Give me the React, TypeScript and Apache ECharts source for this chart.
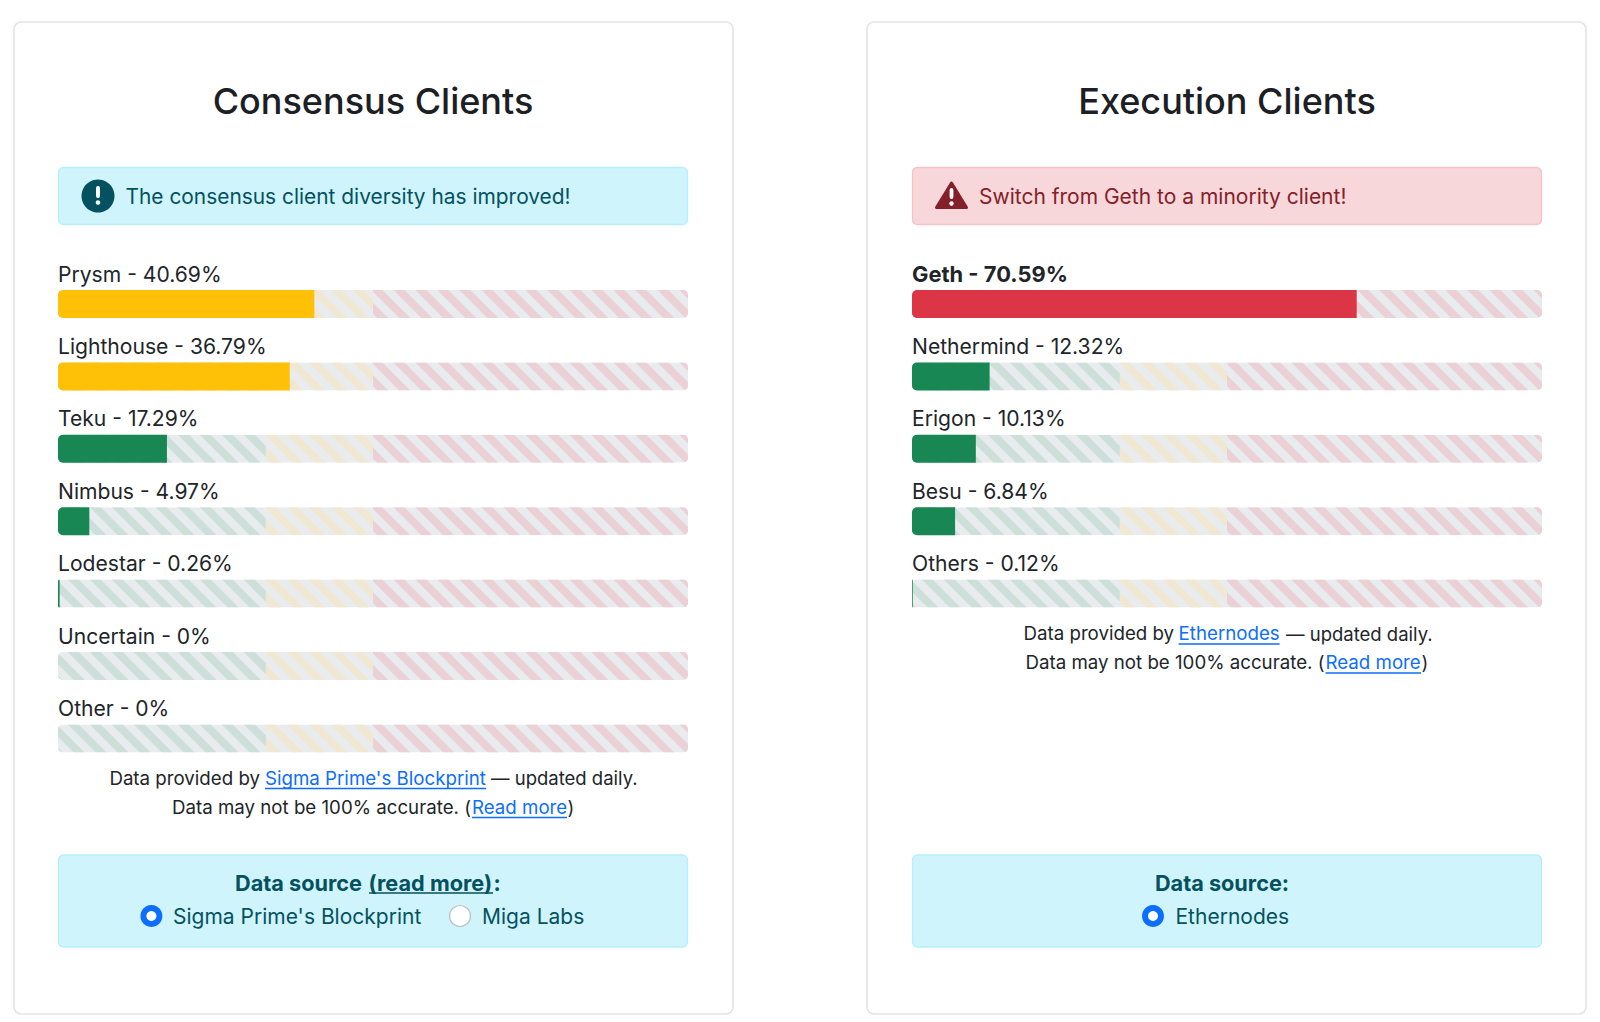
import React, { useEffect, useRef } from "react";
import * as echarts from "echarts";

const consensusClients = ["Prysm", "Lighthouse", "Teku", "Nimbus", "Lodestar", "Uncertain", "Other"];
const consensusShares = [40.69, 36.79, 17.29, 4.97, 0.26, 0, 0];
const consensusLabels = ["40.69%", "36.79%", "17.29%", "4.97%", "0.26%", "0%", "0%"];
const executionClients = ["Geth", "Nethermind", "Erigon", "Besu", "Others"];
const executionShares = [70.59, 12.32, 10.13, 6.84, 0.12];
const executionLabels = ["70.59%", "12.32%", "10.13%", "6.84%", "0.12%"];
const zoneEdges = [0, 33, 50, 100];
const zoneStripeColors = ["#cddfd9", "#f1e8d3", "#ebd0d5"];
const zoneStripePhases = [9.7, 20.7, 20.3];
const FONT = "Inter";
const TEXT = "#212529";
const LINK = "#0d6efd";
const INFO = "#055160";
const DANGER = "#842029";
const ROW = 72.4;
const BAR_H = 28;
const STRIPE_PERIOD = 22;

const barColor = (v: number) => (v > 50 ? "#dc3545" : v > 33 ? "#ffc107" : "#198754");

function clipPoly(poly: number[][], x0: number, x1: number, y0: number, y1: number) {
  const clip = (pts: number[][], inside: (p: number[]) => boolean, cut: (a: number[], b: number[]) => number[]) => {
    const out: number[][] = [];
    pts.forEach((p, i) => {
      const q = pts[(i + 1) % pts.length];
      if (inside(p)) out.push(p);
      if (inside(p) !== inside(q)) out.push(cut(p, q));
    });
    return out;
  };
  const atX = (x: number) => (a: number[], b: number[]) => [x, a[1] + ((b[1] - a[1]) * (x - a[0])) / (b[0] - a[0])];
  const atY = (y: number) => (a: number[], b: number[]) => [a[0] + ((b[0] - a[0]) * (y - a[1])) / (b[1] - a[1]), y];
  let r = clip(poly, (p) => p[0] >= x0, atX(x0));
  if (r.length) r = clip(r, (p) => p[0] <= x1, atX(x1));
  if (r.length) r = clip(r, (p) => p[1] >= y0, atY(y0));
  if (r.length) r = clip(r, (p) => p[1] <= y1, atY(y1));
  return r;
}

function trackSeries(gridIndex: number, names: string[], labels: string[], shares: number[]) {
  return {
    type: "custom",
    xAxisIndex: gridIndex,
    yAxisIndex: gridIndex,
    z: 1,
    clip: false,
    data: names.map((n, i) => [100, i]),
    renderItem: (params: any, api: any) => {
      const i = api.value(1);
      const [x0, yc] = api.coord([0, i]);
      const [x1] = api.coord([100, i]);
      const top = yc - BAR_H / 2;
      const bottom = yc + BAR_H / 2;
      const stripes: any[] = [
        { type: "rect", shape: { x: x0, y: top, width: x1 - x0, height: BAR_H }, style: { fill: "#e9ecef" } },
      ];
      const w = STRIPE_PERIOD / 2;
      zoneEdges.slice(0, -1).forEach((e, z) => {
        const za = api.coord([e, i])[0];
        const zb = api.coord([zoneEdges[z + 1], i])[0];
        for (let s = za + zoneStripePhases[z] - 3 * STRIPE_PERIOD; s < zb; s += STRIPE_PERIOD) {
          const pts = clipPoly(
            [[s, top], [s + w, top], [s + w + BAR_H, bottom], [s + BAR_H, bottom]],
            za, zb, top, bottom
          );
          if (pts.length > 2) {
            stripes.push({ type: "polygon", shape: { points: pts }, style: { fill: zoneStripeColors[z] } });
          }
        }
      });
      const bold = shares[i] > 50;
      return {
        type: "group",
        children: [
          {
            type: "group",
            clipPath: { type: "rect", shape: { x: x0, y: top, width: x1 - x0, height: BAR_H, r: 5 } },
            children: stripes,
          },
          {
            type: "text",
            style: {
              x: x0,
              y: top - 16,
              text: `${names[i]} - ${labels[i]}`,
              fill: TEXT,
              font: `${bold ? 700 : 400} ${bold ? 21.9 : 21.1}px ${FONT}`,
              verticalAlign: "middle",
            },
          },
        ],
      };
    },
  };
}

function barSeries(gridIndex: number, shares: number[]) {
  return {
    type: "bar",
    xAxisIndex: gridIndex,
    yAxisIndex: gridIndex,
    barWidth: BAR_H,
    z: 3,
    data: shares.map((v) => ({
      value: v,
      itemStyle: { color: barColor(v), borderRadius: [5, 0, 0, 5] },
    })),
  };
}

const t = (text: string, x: number, y: number, fill: string, size: number, weight = 400, align = "left") => ({
  type: "text",
  z: 10,
  style: { text, x, y, fill, font: `${weight} ${size}px ${FONT}`, align, verticalAlign: "middle" },
});
const rule = (x1: number, x2: number, y: number, stroke: string, lineWidth = 1.3) => ({
  type: "line",
  z: 10,
  shape: { x1, y1: y, x2, y2: y },
  style: { stroke, lineWidth },
});
const box = (x: number, y: number, width: number, height: number, fill: string, stroke: string, r = 5, lineWidth = 1.3) => ({
  type: "rect",
  z: 0,
  shape: { x, y, width, height, r },
  style: { fill, stroke, lineWidth },
});
const radio = (cx: number, cy: number, on: boolean) => ({
  type: "group",
  z: 10,
  children: on
    ? [
        { type: "circle", shape: { cx, cy, r: 11 }, style: { fill: LINK } },
        { type: "circle", shape: { cx, cy, r: 5 }, style: { fill: "#fff" } },
      ]
    : [{ type: "circle", shape: { cx, cy, r: 10.4 }, style: { fill: "#fff", stroke: "#b9bdc1", lineWidth: 1.2 } }],
});

const graphics: any[] = [
  box(14, 22, 719, 992, "#fff", "#e4e5e6", 7, 1.7),
  box(867, 22, 719, 992, "#fff", "#e4e5e6", 7, 1.7),
  t("Consensus Clients", 373, 100.5, "#1c2025", 36, 500, "center"),
  t("Execution Clients", 1227, 100.5, "#1c2025", 36, 500, "center"),
  box(58.5, 167.5, 629, 57, "#cff4fc", "#b6effb"),
  box(912.5, 167.5, 629, 57, "#f8d7da", "#f5c2c7"),
  { type: "circle", z: 10, shape: { cx: 98, cy: 196, r: 16.5 }, style: { fill: INFO } },
  { type: "rect", z: 11, shape: { x: 96, y: 186, width: 4, height: 12, r: 2 }, style: { fill: "#fff" } },
  { type: "circle", z: 11, shape: { cx: 98, cy: 202.5, r: 2.3 }, style: { fill: "#fff" } },
  t("The consensus client diversity has improved!", 125.5, 196.5, INFO, 20.9),
  {
    type: "polygon",
    z: 10,
    shape: { points: [[951.5, 183], [936.5, 207.5], [966.5, 207.5]] },
    style: { fill: DANGER, stroke: DANGER, lineWidth: 3, lineJoin: "round" },
  },
  { type: "rect", z: 11, shape: { x: 949.6, y: 188, width: 3.8, height: 11, r: 1.9 }, style: { fill: "#fff" } },
  { type: "circle", z: 11, shape: { cx: 951.5, cy: 203.5, r: 2.2 }, style: { fill: "#fff" } },
  t("Switch from Geth to a minority client!", 979, 196.5, DANGER, 21),

  t("Data provided by", 109.4, 778.2, TEXT, 18.7),
  t("Sigma Prime's Blockprint", 265, 778.2, LINK, 18.7),
  rule(265, 486, 788.5, LINK),
  t("— updated daily.", 491, 778.2, TEXT, 18.5),
  t("Data may not be 100% accurate. (", 172, 807.2, TEXT, 18.7),
  t("Read more", 472, 807.2, LINK, 18.7),
  rule(472, 567, 817.5, LINK),
  t(")", 567.5, 807.2, TEXT, 18.7),

  t("Data provided by", 1023.5, 633.7, TEXT, 18.7),
  t("Ethernodes", 1178.6, 633.7, LINK, 18.7),
  rule(1178.6, 1279.6, 644, LINK),
  t("— updated daily.", 1286, 633.7, TEXT, 18.5),
  t("Data may not be 100% accurate. (", 1025.5, 662.7, TEXT, 18.7),
  t("Read more", 1325.5, 662.7, LINK, 18.7),
  rule(1325.5, 1421, 673, LINK),
  t(")", 1421.5, 662.7, TEXT, 18.7),

  box(58.5, 855, 629, 92, "#cff4fc", "#b6effb"),
  box(912.5, 855, 629, 92, "#cff4fc", "#b6effb"),
  t("Data source", 235, 883, INFO, 21.7, 700),
  t("(read more)", 368.5, 883, INFO, 21.7, 700),
  rule(369, 493, 893, INFO),
  t(":", 493.5, 883, INFO, 21.7, 700),
  radio(151.4, 916, true),
  t("Sigma Prime's Blockprint", 173, 916, INFO, 21),
  radio(460, 916, false),
  t("Miga Labs", 482, 916, INFO, 21),
  t("Data source:", 1222, 883, INFO, 21.7, 700, "center"),
  radio(1153, 916, true),
  t("Ethernodes", 1175.5, 916, INFO, 21),
];

export default function App() {
  const ref = useRef<HTMLDivElement>(null);
  useEffect(() => {
    document.body.style.margin = "0";
    const chart = echarts.init(ref.current!, undefined, { renderer: "svg" });
    const band = (top: number, n: number) => ({ left: 0, top, height: n * ROW });
    chart.setOption({
      animation: false,
      backgroundColor: "#fff",
      grid: [
        { ...band(267.8, 7), left: 58, width: 630 },
        { ...band(267.8, 5), left: 912, width: 630 },
      ],
      xAxis: [0, 1].map((g) => ({ type: "value", gridIndex: g, min: 0, max: 100, show: false })),
      yAxis: [
        { type: "category", gridIndex: 0, inverse: true, data: consensusClients, show: false },
        { type: "category", gridIndex: 1, inverse: true, data: executionClients, show: false },
      ],
      series: [
        trackSeries(0, consensusClients, consensusLabels, consensusShares),
        barSeries(0, consensusShares),
        trackSeries(1, executionClients, executionLabels, executionShares),
        barSeries(1, executionShares),
      ],
      graphic: { elements: graphics },
    });
    return () => chart.dispose();
  }, []);
  return <div ref={ref} style={{ width: 1600, height: 1022 }} />;
}
